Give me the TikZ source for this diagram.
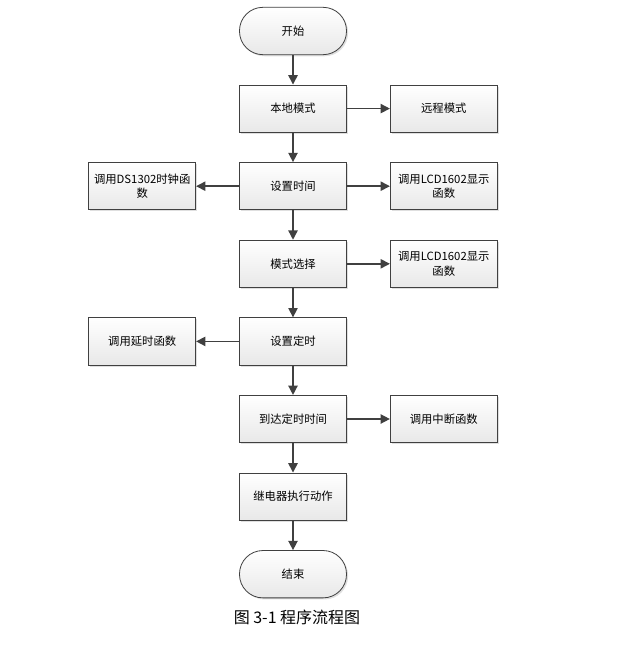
\documentclass[tikz,border=0pt]{standalone}
\usepackage{fontspec}
\setmainfont{Noto Sans CJK SC}
\usepackage{tikz}
\usetikzlibrary{arrows.meta, positioning, shadows}

\definecolor{linea}{HTML}{404040}

\begin{document}
\begin{tikzpicture}[
	node distance=22.1pt and 32.25pt,
	% estilos de la figura
	myarrow/.style={-{Triangle[width=7pt, length=7pt]}, line width=1.1pt, linea},
	proceso/.style={rectangle, draw=linea, line width=0.6pt, top color=white, bottom color=gray!18,
		minimum width=80.25pt, minimum height=35.5pt, align=center, inner sep=1pt,
		font=\fontsize{8.5}{11}\selectfont,
		drop shadow={opacity=0.25, shadow xshift=1.2pt, shadow yshift=-1.2pt}},
	terminal/.style={proceso, rounded corners=17.5pt}
	]
	\useasboundingbox (0,0) rectangle (462.75pt,-483.75pt);

	\node[terminal] (inicio) at (219.75pt,-23.25pt) {开始};
	\node[proceso, below=of inicio] (local) {本地模式};
	\node[proceso, right=of local] (remoto) {远程模式};
	\node[proceso, below=of local] (tiempo) {设置时间};
	\node[proceso, left=of tiempo] (ds) {调用DS1302时钟函\\数};
	\node[proceso, right=of tiempo] (lcda) {调用LCD1602显示\\函数};
	\node[proceso, below=of tiempo] (modo) {模式选择};
	\node[proceso, right=of modo] (lcdb) {调用LCD1602显示\\函数};
	\node[proceso, below=of modo] (timer) {设置定时};
	\node[proceso, left=of timer] (retardo) {调用延时函数};
	\node[proceso, below=of timer] (llegada) {到达定时时间};
	\node[proceso, right=of llegada] (interr) {调用中断函数};
	\node[proceso, below=of llegada] (rele) {继电器执行动作};
	\node[terminal, below=of rele] (fin) {结束};

	\node[font=\fontsize{12}{14}\selectfont] (titulo) at (222.75pt,-462.75pt) {图 3-1 程序流程图};

	% flechas
	\draw[myarrow] (inicio) -- (local);
	\draw[myarrow] (local) -- (remoto);
	\draw[myarrow] (local) -- (tiempo);
	\draw[myarrow] (tiempo) -- (ds);
	\draw[myarrow] (tiempo) -- (lcda);
	\draw[myarrow] (tiempo) -- (modo);
	\draw[myarrow] (modo) -- (lcdb);
	\draw[myarrow] (modo) -- (timer);
	\draw[myarrow] (timer) -- (retardo);
	\draw[myarrow] (timer) -- (llegada);
	\draw[myarrow] (llegada) -- (interr);
	\draw[myarrow] (llegada) -- (rele);
	\draw[myarrow] (rele) -- (fin);

\end{tikzpicture}
\end{document}
